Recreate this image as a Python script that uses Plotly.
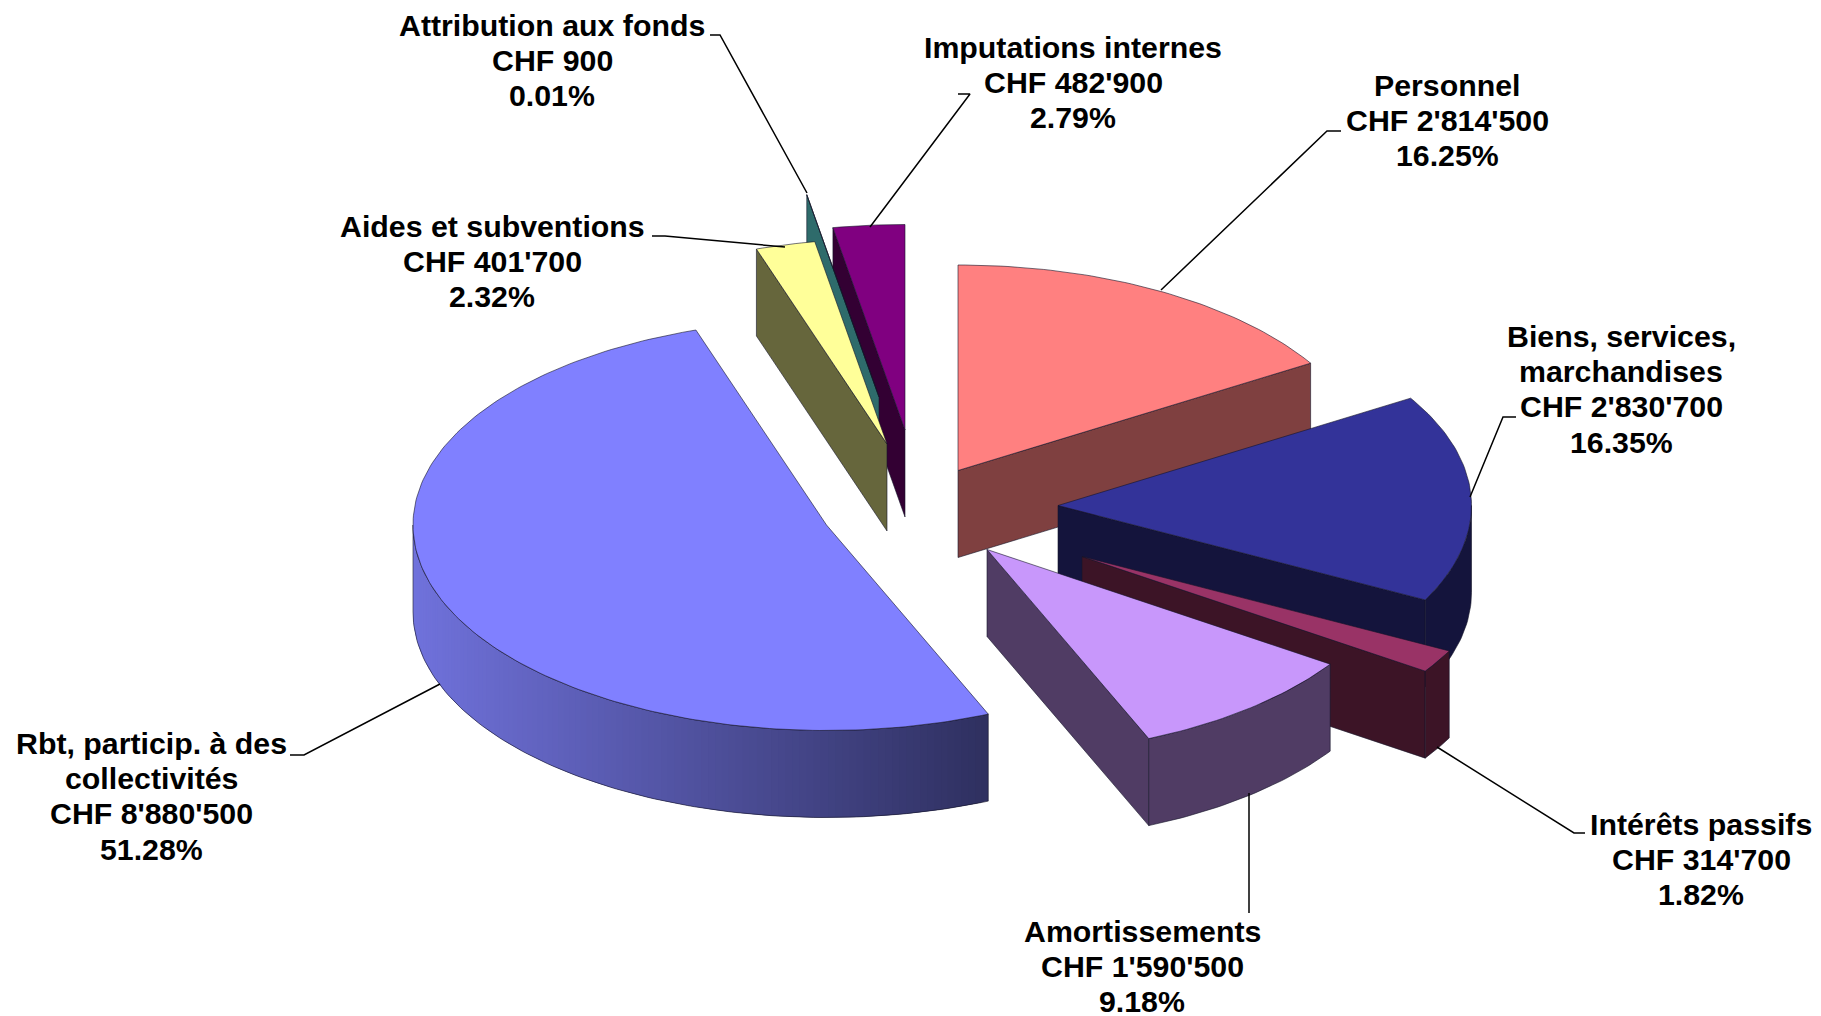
# coding: utf-8

import numpy as np
import plotly.graph_objects as go

names = ["Personnel", "Biens, services,|marchandises", "Intérêts passifs", "Amortissements",
         "Rbt, particip. à des|collectivités", "Aides et subventions", "Attribution aux fonds",
         "Imputations internes"]
amounts = [2814500, 2830700, 314700, 1590500, 8880500, 401700, 900, 482900]

# slice look
top_colors = ["#ff8080", "#333399", "#993366", "#c897fb", "#8080ff", "#ffff99", "#339999", "#800080"]
wall_left = ["#7f4040", "#14143c", "#3c1426", "#503c64", "#7072dc", "#66663c", "#2e6b6b", "#330033"]
wall_right = ["#7f4040", "#14143c", "#3c1426", "#503c64", "#2f3060", "#66663c", "#2e6b6b", "#330033"]

# exploded position of each slice's tip, in pixels
tips = [(958, 470.5), (1058, 505.5), (1082, 556.5), (987, 549.5), (826.5, 525), (887, 444), (879, 397), (905, 430)]
RX, RY, DEPTH = 413.5, 205.5, 87
EDGE = "rgba(20,20,40,0.75)"
LINE_GAP = 35

draw_order = [0, 1, 2, 3, 7, 6, 5, 4]

# label centres and leader lines
label_pos = [(1447, 120), (1621, 389), (1701, 859), (1142, 966), (151, 796), (492, 261), (552, 60), (1073, 82)]
leaders = [
    [(1341, 131), (1327, 131), (1161, 290)],
    [(1516, 417), (1503, 417), (1470, 497)],
    [(1585, 833), (1574, 833), (1437, 747)],
    [(1249, 913), (1249, 793)],
    [(290, 755), (304, 755), (440, 684)],
    [(652, 236), (665, 236), (785, 247)],
    [(710, 35), (720, 35), (807, 193)],
    [(958, 94), (970, 94), (870, 227)],
]

total = sum(amounts)
shares = [a / total for a in amounts]
ends = np.cumsum(shares) * 360
starts = np.concatenate([[0], ends[:-1]])


def rim(tip, angles):
    rad = np.radians(angles)
    return tip[0] + RX * np.sin(rad), tip[1] - RY * np.cos(rad)


def hex_mix(c0, c1, t):
    a = [int(c0[i:i + 2], 16) for i in (1, 3, 5)]
    b = [int(c1[i:i + 2], 16) for i in (1, 3, 5)]
    return "rgb(%d,%d,%d)" % tuple(round(p + (q - p) * t) for p, q in zip(a, b))


def poly(xs, ys, fill, line=EDGE, width=0.8):
    return go.Scatter(x=list(xs), y=list(ys), mode="lines", fill="toself", fillcolor=fill,
                      line=dict(color=line, width=width), hoverinfo="skip", showlegend=False)


def radial_wall(tip, angle, color):
    x, y = rim(tip, np.array([angle]))
    return poly([tip[0], x[0], x[0], tip[0], tip[0]],
                [tip[1], y[0], y[0] + DEPTH, tip[1] + DEPTH, tip[1]], color)


fig = go.Figure()

for i in draw_order:
    tip, a0, a1 = tips[i], starts[i], ends[i]
    if np.sin(np.radians(a0)) < -1e-9:
        fig.add_trace(radial_wall(tip, a0, wall_left[i]))
    if np.sin(np.radians(a1)) > 1e-9:
        fig.add_trace(radial_wall(tip, a1, wall_left[i]))

    # outer wall, only the part turned towards the viewer
    w0, w1 = max(a0, 90), min(a1, 270)
    if w1 > w0:
        edge = np.linspace(w0, w1, int(w1 - w0) + 2)
        ex, ey = rim(tip, edge)
        outline_x = list(ex) + list(ex[::-1]) + [ex[0]]
        outline_y = list(ey) + list(ey[::-1] + DEPTH) + [ey[0]]
        if wall_left[i] == wall_right[i]:
            fig.add_trace(poly(outline_x, outline_y, wall_left[i]))
        else:
            # shaded wall: overlapping strips so no seams show
            for k in range(len(edge) - 1):
                j = min(k + 2, len(edge) - 1)
                t = (ex[k] - ex.min()) / (ex.max() - ex.min())
                c = hex_mix(wall_left[i], wall_right[i], t)
                xs = list(ex[k:j + 1]) + list(ex[k:j + 1][::-1]) + [ex[k]]
                ys = list(ey[k:j + 1]) + list(ey[k:j + 1][::-1] + DEPTH) + [ey[k]]
                fig.add_trace(poly(xs, ys, c, line=c, width=0))
            fig.add_trace(go.Scatter(x=outline_x, y=outline_y, mode="lines",
                                     line=dict(color=EDGE, width=0.8), hoverinfo="skip", showlegend=False))

    # top face
    arc = np.linspace(a0, a1, max(int(a1 - a0) + 2, 2))
    ax, ay = rim(tip, arc)
    fig.add_trace(poly([tip[0]] + list(ax) + [tip[0]], [tip[1]] + list(ay) + [tip[1]], top_colors[i]))

for pts in leaders:
    fig.add_trace(go.Scatter(x=[p[0] for p in pts], y=[p[1] for p in pts], mode="lines",
                             line=dict(color="black", width=1.5), hoverinfo="skip", showlegend=False))

for name, amount, share, (lx, ly) in zip(names, amounts, shares, label_pos):
    chf = f"{amount:,}".replace(",", "'")
    lines = name.split("|") + [f"CHF {chf}", f"{share * 100:.2f}%"]
    for k, line in enumerate(lines):
        # the percent line has no descenders, so its box can be tight (9.18% sits near the bottom edge)
        box = 28 if k == len(lines) - 1 else None
        fig.add_annotation(x=lx, y=ly + (k - (len(lines) - 1) / 2) * LINE_GAP, xref="x", yref="y",
                           showarrow=False, align="center", height=box, text=f"<b>{line}</b>",
                           font=dict(family="Liberation Sans", size=30.3, color="black"))

fig.update_xaxes(range=[0, 1821], visible=False, fixedrange=True)
fig.update_yaxes(range=[1016, 0], visible=False, fixedrange=True)
fig.update_layout(width=1821, height=1016, margin=dict(l=0, r=0, t=0, b=0),
                  paper_bgcolor="white", plot_bgcolor="white", showlegend=False)

fig.write_html("out.html", config={"displayModeBar": False},
               post_script="document.body.style.margin='0';document.body.style.overflow='hidden';")
